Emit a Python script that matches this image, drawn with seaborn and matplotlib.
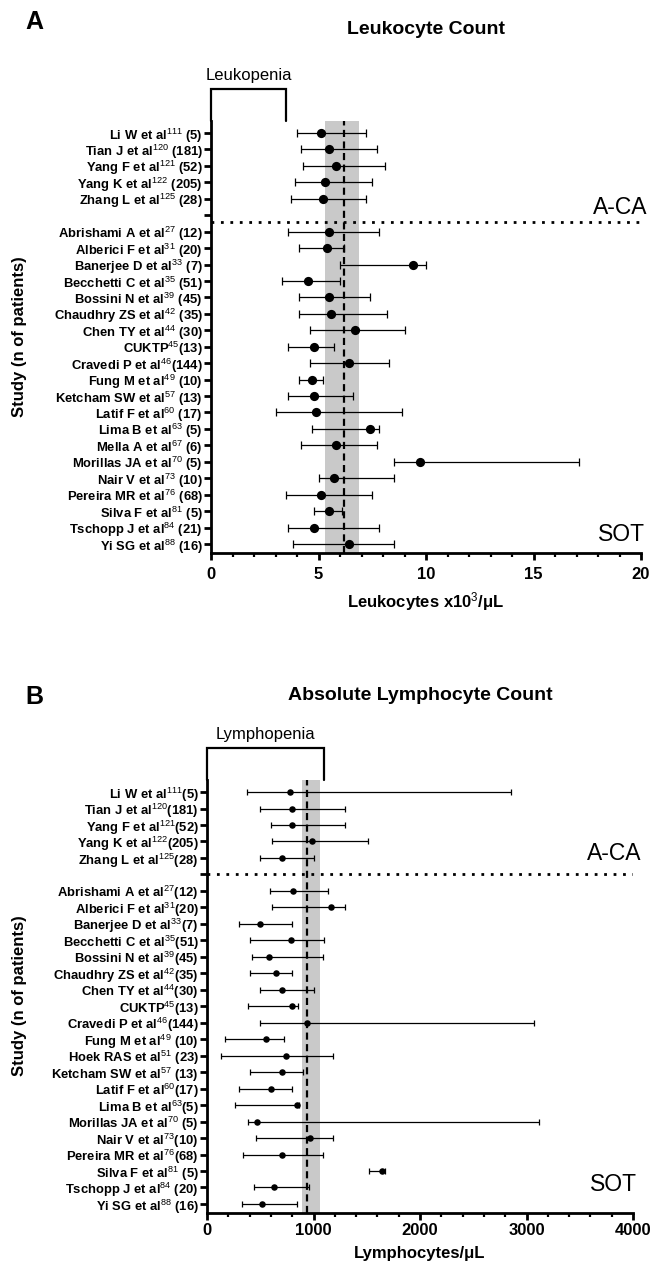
import numpy as np
import pandas as pd
import matplotlib
matplotlib.use("Agg")
import matplotlib.pyplot as plt
import matplotlib.transforms as mtransforms
from matplotlib.ticker import MultipleLocator
import seaborn as sns

# ---------------- data ----------------
aca_studies_A = ["Li W et al$^{\\mathrm{111}}$ (5)", "Tian J et al$^{\\mathrm{120}}$ (181)",
                 "Yang F et al$^{\\mathrm{121}}$ (52)", "Yang K et al$^{\\mathrm{122}}$ (205)",
                 "Zhang L et al$^{\\mathrm{125}}$ (28)"]
sot_studies_A = ["Abrishami A et al$^{\\mathrm{27}}$ (12)", "Alberici F et al$^{\\mathrm{31}}$ (20)",
                 "Banerjee D et al$^{\\mathrm{33}}$ (7)", "Becchetti C et al$^{\\mathrm{35}}$ (51)",
                 "Bossini N et al$^{\\mathrm{39}}$ (45)", "Chaudhry ZS et al$^{\\mathrm{42}}$ (35)",
                 "Chen TY et al$^{\\mathrm{44}}$ (30)", "CUKTP$^{\\mathrm{45}}$(13)",
                 "Cravedi P et al$^{\\mathrm{46}}$(144)", "Fung M et al$^{\\mathrm{49}}$ (10)",
                 "Ketcham SW et al$^{\\mathrm{57}}$ (13)", "Latif F et al$^{\\mathrm{60}}$ (17)",
                 "Lima B et al$^{\\mathrm{63}}$ (5)", "Mella A et al$^{\\mathrm{67}}$ (6)",
                 "Morillas JA et al$^{\\mathrm{70}}$ (5)", "Nair V et al$^{\\mathrm{73}}$ (10)",
                 "Pereira MR et al$^{\\mathrm{76}}$ (68)", "Silva F et al$^{\\mathrm{81}}$ (5)",
                 "Tschopp J et al$^{\\mathrm{84}}$ (21)", "Yi SG et al$^{\\mathrm{88}}$ (16)"]
aca_mid_A = [5.1, 5.5, 5.8, 5.3, 5.2]
aca_lo_A = [4.0, 4.2, 4.3, 3.9, 3.7]
aca_hi_A = [7.2, 7.7, 8.1, 7.5, 7.2]
sot_mid_A = [5.5, 5.4, 9.4, 4.5, 5.5, 5.6, 6.7, 4.8, 6.4, 4.7, 4.8, 4.9, 7.4, 5.8, 9.7, 5.7, 5.1, 5.5, 4.8, 6.4]
sot_lo_A = [3.6, 4.1, 6.0, 3.3, 4.1, 4.1, 4.6, 3.6, 4.6, 4.1, 3.6, 3.0, 4.7, 4.2, 8.5, 5.0, 3.5, 4.8, 3.6, 3.8]
sot_hi_A = [7.8, 6.2, 10.0, 6.0, 7.4, 8.2, 9.0, 5.7, 8.3, 5.2, 6.6, 8.9, 7.8, 7.7, 17.1, 8.5, 7.5, 6.1, 7.8, 8.5]
ref_band_A = (5.3, 6.9)
ref_line_A = 6.2
leukopenia_max = 3.5

aca_studies_B = ["Li W et al$^{\\mathrm{111}}$(5)", "Tian J et al$^{\\mathrm{120}}$(181)",
                 "Yang F et al$^{\\mathrm{121}}$(52)", "Yang K et al$^{\\mathrm{122}}$(205)",
                 "Zhang L et al$^{\\mathrm{125}}$(28)"]
sot_studies_B = ["Abrishami A et al$^{\\mathrm{27}}$(12)", "Alberici F et al$^{\\mathrm{31}}$(20)",
                 "Banerjee D et al$^{\\mathrm{33}}$(7)", "Becchetti C et al$^{\\mathrm{35}}$(51)",
                 "Bossini N et al$^{\\mathrm{39}}$(45)", "Chaudhry ZS et al$^{\\mathrm{42}}$(35)",
                 "Chen TY et al$^{\\mathrm{44}}$(30)", "CUKTP$^{\\mathrm{45}}$(13)",
                 "Cravedi P et al$^{\\mathrm{46}}$(144)", "Fung M et al$^{\\mathrm{49}}$ (10)",
                 "Hoek RAS et al$^{\\mathrm{51}}$ (23)", "Ketcham SW et al$^{\\mathrm{57}}$ (13)",
                 "Latif F et al$^{\\mathrm{60}}$(17)", "Lima B et al$^{\\mathrm{63}}$(5)",
                 "Morillas JA et al$^{\\mathrm{70}}$ (5)", "Nair V et al$^{\\mathrm{73}}$(10)",
                 "Pereira MR et al$^{\\mathrm{76}}$(68)", "Silva F et al$^{\\mathrm{81}}$ (5)",
                 "Tschopp J et al$^{\\mathrm{84}}$ (20)", "Yi SG et al$^{\\mathrm{88}}$ (16)"]
aca_mid_B = [780, 800, 800, 990, 700]
aca_lo_B = [380, 500, 600, 610, 500]
aca_hi_B = [2850, 1300, 1300, 1510, 1000]
sot_mid_B = [810, 1165, 500, 790, 585, 650, 700, 800, 940, 555, 745, 700, 600, 845, 470, 970, 700, 1640, 625, 515]
sot_lo_B = [595, 615, 300, 400, 425, 400, 500, 385, 500, 165, 130, 400, 300, 265, 385, 460, 340, 1525, 445, 330]
sot_hi_B = [1140, 1300, 800, 1095, 1090, 800, 1000, 855, 3075, 720, 1180, 900, 800, 860, 3115, 1180, 1085, 1675, 960, 845]
ref_band_B = (895, 1065)
ref_line_B = 940
lymphopenia_max = 1100

# ---------------- style ----------------
sns.set_theme(style="ticks")
plt.rcParams["font.family"] = ["Liberation Sans", "DejaVu Sans"]
plt.rcParams["mathtext.fontset"] = "custom"
plt.rcParams["mathtext.rm"] = "Liberation Sans"
plt.rcParams["mathtext.it"] = "Liberation Sans:italic"
plt.rcParams["mathtext.bf"] = "Liberation Sans:bold"
for key in ["text.color", "axes.labelcolor", "xtick.color", "ytick.color",
            "axes.edgecolor", "xtick.labelcolor", "ytick.labelcolor"]:
    plt.rcParams[key] = "black"

W, H = 651, 1268
fig = plt.figure(figsize=(W / 100, H / 100), dpi=100)


def fx(px):
    return px / W


def fy(py):
    return 1 - py / H


def make_df(aca_names, aca_mid, aca_lo, aca_hi, sot_names, sot_mid, sot_lo, sot_hi):
    n_a = len(aca_names)
    rows = []
    for i in range(n_a):
        rows.append(dict(study=aca_names[i], mid=aca_mid[i], lo=aca_lo[i], hi=aca_hi[i],
                         pos=i, group="A-CA"))
    for j in range(len(sot_names)):
        rows.append(dict(study=sot_names[j], mid=sot_mid[j], lo=sot_lo[j], hi=sot_hi[j],
                         pos=n_a + 1 + j, group="SOT"))
    return pd.DataFrame(rows)


def panel(ax, df, xmax, major, minor, band, line, bracket_x, bracket_label,
          msize, capsize, dotted_y, aca_pos, sot_pos, xlabel, tickpad):
    ax.axvspan(band[0], band[1], color="#c9c9c9", lw=0, zorder=0)
    ax.axvline(line, color="black", lw=1.6, ls=(0, (3.2, 2.0)), zorder=1)
    ax.errorbar(df["mid"], df["pos"], xerr=[df["mid"] - df["lo"], df["hi"] - df["mid"]],
                fmt="none", ecolor="black", elinewidth=0.9, capsize=capsize,
                capthick=0.9, zorder=2)
    sns.scatterplot(data=df, x="mid", y="pos", color="black", s=msize, edgecolor="black",
                    linewidth=0, ax=ax, zorder=3, legend=False)
    n = int(df["pos"].max()) + 1
    ax.axhline(dotted_y, color="black", lw=2.0, ls=(0, (1, 2.4)), zorder=1)
    ax.set_xlim(0, xmax)
    ax.set_ylim(n - 1 + 0.55, -0.73)
    labels = [""] * n
    for p, s in zip(df["pos"], df["study"]):
        labels[p] = s
    ax.set_yticks(range(n))
    ax.set_yticklabels(labels, fontsize=9.4, fontweight="bold")
    ax.set_xticks(major)
    ax.xaxis.set_minor_locator(MultipleLocator(minor))
    ax.set_xticklabels([str(v) for v in major], fontsize=12, fontweight="bold")
    ax.tick_params(axis="y", length=5, width=2, direction="out", pad=1, color="black")
    ax.tick_params(axis="x", which="major", length=5, width=2, direction="out",
                   pad=tickpad, color="black")
    ax.tick_params(axis="x", which="minor", length=3, width=1.6, direction="out",
                   color="black")
    for s in ["top", "right"]:
        ax.spines[s].set_visible(False)
    for s in ["left", "bottom"]:
        ax.spines[s].set_linewidth(2.0)
        ax.spines[s].set_color("black")
    ax.set_xlabel(xlabel, fontsize=12, fontweight="bold", labelpad=6, color="black")
    ax.set_ylabel("")
    ax.grid(False)
    # bracket
    tr = mtransforms.blended_transform_factory(ax.transData, ax.transAxes)
    ax.plot([0, 0, bracket_x, bracket_x], [1.0, 1.075, 1.075, 1.0], color="black",
            lw=1.6, transform=tr, clip_on=False, solid_joinstyle="miter")
    ax.text(bracket_x / 2, 1.088, bracket_label, transform=tr, ha="center", va="bottom",
            fontsize=12, color="black")
    ax.text(aca_pos[0], aca_pos[1], "A-CA", transform=ax.transAxes, ha="right",
            va="center", fontsize=16.5, color="black")
    ax.text(sot_pos[0], sot_pos[1], "SOT", transform=ax.transAxes, ha="right",
            va="center", fontsize=16.5, color="black")


# ---------- Panel A ----------
dfA = make_df(aca_studies_A, aca_mid_A, aca_lo_A, aca_hi_A,
              sot_studies_A, sot_mid_A, sot_lo_A, sot_hi_A)
axA = fig.add_axes([fx(211), fy(553), fx(641) - fx(211), (553 - 121) / H])
panel(axA, dfA, 20, [0, 5, 10, 15, 20], 1, ref_band_A, ref_line_A, leukopenia_max,
      "Leukopenia", 44, 2.6, 5.4, (1.014, 0.80), (1.009, 0.042),
      "Leukocytes x10$^{\\mathrm{3}}$/\u03bcL", 5)

# ---------- Panel B ----------
dfB = make_df(aca_studies_B, aca_mid_B, aca_lo_B, aca_hi_B,
              sot_studies_B, sot_mid_B, sot_lo_B, sot_hi_B)
axB = fig.add_axes([fx(207), fy(1213), fx(633) - fx(207), (1213 - 780) / H])
panel(axB, dfB, 4000, [0, 1000, 2000, 3000, 4000], 200, ref_band_B, ref_line_B,
      lymphopenia_max, "Lymphopenia", 22, 2.2, 5.0, (1.019, 0.83), (1.009, 0.065),
      "Lymphocytes/\u03bcL", 2)

# ---------- figure texts ----------
fig.text(fx(34), fy(22), "A", fontsize=18, fontweight="bold", ha="center", va="center")
fig.text(fx(426), fy(29), "Leukocyte Count", fontsize=14, fontweight="bold",
         ha="center", va="center")
fig.text(fx(34), fy(697), "B", fontsize=18, fontweight="bold", ha="center", va="center")
fig.text(fx(420), fy(695), "Absolute Lymphocyte Count", fontsize=14, fontweight="bold",
         ha="center", va="center")
fig.text(fx(20), fy(337), "Study (n of patients)", fontsize=12, fontweight="bold",
         rotation=90, ha="center", va="center")
fig.text(fx(20), fy(996), "Study (n of patients)", fontsize=12, fontweight="bold",
         rotation=90, ha="center", va="center")

fig.savefig("out.png", dpi=100)
